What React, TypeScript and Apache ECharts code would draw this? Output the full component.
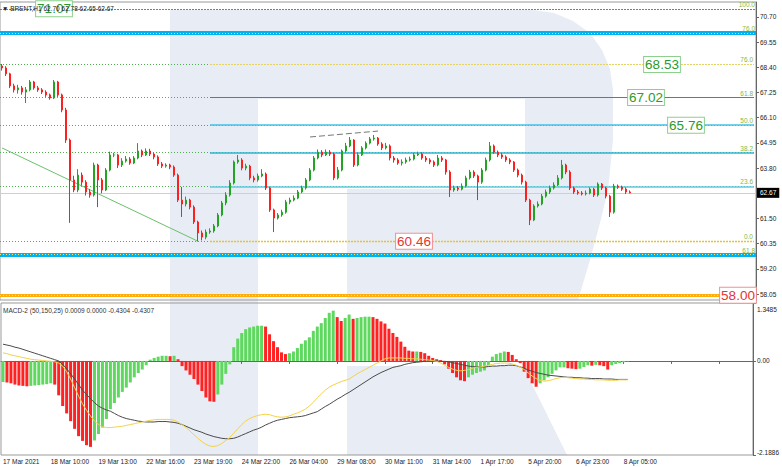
import React, { useEffect, useRef } from 'react';
import * as echarts from 'echarts';

// ---------- data ----------
const TIME_LABELS = ['17 Mar 2021', '18 Mar 10:00', '19 Mar 13:00', '22 Mar 16:00', '23 Mar 19:00', '24 Mar 22:00', '26 Mar 04:00', '29 Mar 08:00', '30 Mar 11:00', '31 Mar 14:00', '1 Apr 17:00', '5 Apr 20:00', '6 Apr 23:00', '8 Apr 05:00'];
const SLOTS = 189;
const LABEL_STEP = 12;

const FIRST_OPEN = 68.46;
const CLOSE = [
  68.37, 68.10, 67.55, 67.37, 67.46, 67.27, 67.37, 67.73, 67.46, 67.37,
  67.27, 67.14, 67.00, 67.73, 67.14, 66.45, 65.08, 63.26, 62.80, 63.48,
  63.16, 62.71, 62.57, 63.94, 63.26, 62.80, 63.71, 64.40, 64.40, 63.94,
  64.12, 64.21, 64.03, 64.26, 64.58, 64.40, 64.58, 64.44, 64.31, 63.99,
  63.89, 63.94, 63.85, 63.48, 62.34, 62.16, 62.34, 62.02, 61.34, 60.84,
  60.65, 60.88, 60.93, 61.16, 61.66, 62.21, 62.57, 63.12, 64.08, 64.17,
  63.80, 63.89, 63.35, 63.26, 63.44, 63.53, 62.89, 61.89, 61.52, 61.66,
  61.79, 62.25, 62.34, 62.43, 62.71, 62.89, 63.26, 63.71, 64.26, 64.53,
  64.40, 64.53, 64.44, 63.35, 63.71, 64.58, 64.81, 65.08, 63.94, 64.40,
  64.72, 64.94, 65.13, 65.17, 64.90, 64.72, 64.81, 64.26, 64.17, 64.03,
  64.08, 64.17, 64.21, 64.40, 64.44, 64.26, 64.17, 64.08, 63.94, 64.26,
  64.17, 63.62, 62.80, 62.89, 62.84, 62.98, 63.35, 63.62, 63.44, 63.16,
  63.71, 64.17, 64.81, 64.53, 64.40, 64.31, 64.17, 64.08, 63.71, 63.48,
  63.16, 62.34, 61.43, 62.07, 62.16, 62.52, 62.71, 62.89, 63.03, 63.35,
  63.94, 63.62, 62.89, 62.71, 62.66, 62.62, 62.66, 62.84, 62.57, 63.07,
  62.89, 62.52, 61.79, 62.98, 62.93, 62.84, 62.71, 62.67,
];
const HIGH = [
  68.55, 68.45, 68.15, 67.65, 67.60, 67.55, 67.50, 67.82, 67.78, 67.55,
  67.45, 67.35, 67.20, 67.82, 67.78, 67.20, 66.55, 65.15, 63.45, 63.75,
  63.60, 63.25, 62.85, 64.05, 64.00, 63.35, 63.80, 64.55, 64.50, 64.45,
  64.25, 64.35, 64.30, 64.35, 64.94, 64.65, 64.70, 64.68, 64.50, 64.38,
  64.08, 64.02, 64.00, 63.92, 63.55, 62.94, 62.50, 62.40, 62.10, 61.40,
  60.95, 61.00, 61.05, 61.25, 61.75, 62.30, 62.70, 63.25, 64.15, 64.40,
  64.25, 64.00, 63.95, 63.45, 63.55, 63.75, 63.60, 62.95, 61.95, 61.75,
  61.90, 62.35, 62.45, 62.55, 62.80, 63.00, 63.35, 63.80, 64.35, 64.65,
  64.62, 64.65, 64.62, 64.50, 63.85, 64.65, 64.95, 65.22, 65.12, 64.50,
  64.80, 65.02, 65.22, 65.31, 65.22, 64.98, 64.95, 64.88, 64.35, 64.25,
  64.20, 64.28, 64.32, 64.50, 64.55, 64.52, 64.35, 64.25, 64.15, 64.40,
  64.35, 64.22, 63.70, 63.00, 62.98, 63.10, 63.45, 63.72, 63.70, 63.50,
  63.80, 64.28, 64.99, 64.88, 64.60, 64.48, 64.38, 64.25, 64.12, 63.78,
  63.55, 63.22, 62.40, 62.15, 62.28, 62.62, 62.82, 63.00, 63.15, 63.48,
  64.17, 64.00, 63.70, 62.95, 62.80, 62.75, 62.78, 62.92, 62.90, 63.15,
  63.12, 62.95, 62.58, 63.08, 63.05, 63.00, 62.92, 62.78,
];
const LOW = [
  68.25, 68.00, 67.45, 67.25, 67.20, 67.15, 66.77, 67.30, 67.38, 67.28,
  67.18, 67.05, 66.92, 66.95, 67.05, 66.35, 64.95, 61.30, 62.70, 62.70,
  63.00, 62.55, 62.45, 62.50, 62.02, 62.65, 62.75, 63.65, 64.30, 63.80,
  63.85, 64.05, 63.95, 63.98, 64.20, 64.30, 64.35, 64.35, 64.20, 63.90,
  63.80, 63.82, 63.75, 63.40, 62.25, 61.57, 62.05, 61.92, 61.25, 60.46,
  60.50, 60.55, 60.80, 60.85, 61.10, 61.60, 62.10, 62.50, 63.05, 64.00,
  63.70, 63.70, 63.25, 63.15, 63.18, 63.38, 62.80, 61.80, 60.88, 61.45,
  61.58, 61.72, 62.15, 62.28, 62.38, 62.65, 62.82, 63.20, 63.65, 64.20,
  64.30, 64.35, 64.35, 63.25, 63.28, 63.65, 64.50, 64.75, 63.85, 63.88,
  64.35, 64.65, 64.88, 65.05, 64.82, 64.62, 64.65, 64.15, 64.05, 63.95,
  63.92, 64.00, 64.10, 64.15, 64.35, 64.18, 64.08, 63.98, 63.85, 63.88,
  64.08, 63.50, 62.48, 62.72, 62.75, 62.78, 62.92, 63.28, 63.35, 62.34,
  63.08, 63.65, 64.10, 64.45, 64.30, 64.22, 64.08, 63.98, 63.62, 63.38,
  63.05, 62.25, 61.20, 61.38, 62.00, 62.10, 62.45, 62.62, 62.82, 62.98,
  63.28, 63.52, 62.80, 62.62, 62.58, 62.55, 62.55, 62.60, 62.48, 62.50,
  62.80, 62.42, 61.57, 61.72, 62.85, 62.76, 62.62, 62.65,
];

const MACD_HIST = [
  -0.49, -0.50, -0.52, -0.55, -0.57, -0.58, -0.59, -0.58, -0.57, -0.56,
  -0.55, -0.54, -0.52, -0.55, -0.80, -1.05, -1.22, -1.40, -1.58, -1.75,
  -1.86, -1.96, -2.00, -1.85, -1.70, -1.55, -1.35, -1.12, -0.98, -0.85,
  -0.72, -0.62, -0.50, -0.38, -0.28, -0.20, -0.10, 0.03, 0.07, 0.10,
  0.12, 0.12, 0.11, 0.12, 0.04, -0.12, -0.22, -0.32, -0.42, -0.55,
  -0.70, -0.85, -0.94, -0.95, -0.78, -0.55, -0.30, -0.08, 0.32, 0.52,
  0.65, 0.74, 0.78, 0.80, 0.82, 0.82, 0.80, 0.62, 0.46, 0.32,
  0.20, 0.16, 0.18, 0.22, 0.30, 0.40, 0.48, 0.55, 0.70, 0.80,
  0.88, 1.00, 1.12, 1.17, 1.02, 0.93, 1.00, 1.08, 0.98, 1.00,
  1.02, 1.03, 1.03, 1.02, 0.98, 0.92, 0.87, 0.75, 0.65, 0.56,
  0.45, 0.33, 0.24, 0.22, 0.22, 0.21, 0.18, 0.12, 0.07, 0.04,
  0.02, -0.08, -0.18, -0.28, -0.38, -0.45, -0.47, -0.38, -0.32, -0.28,
  -0.25, -0.22, -0.10, 0.10, 0.16, 0.19, 0.22, 0.21, 0.14, 0.04,
  -0.05, -0.25, -0.40, -0.52, -0.60, -0.52, -0.45, -0.38, -0.30, -0.22,
  -0.15, -0.15, -0.17, -0.18, -0.19, -0.18, -0.14, -0.10, -0.11, -0.09,
  -0.10, -0.12, -0.20, -0.10, -0.07, -0.05, -0.03, -0.01,
];
const MACD_DARK = [
  0.39, 0.37, 0.35, 0.32, 0.30, 0.27, 0.24, 0.21, 0.18, 0.15,
  0.12, 0.09, 0.06, 0.03, 0.00, -0.08, -0.18, -0.30, -0.42, -0.55,
  -0.68, -0.78, -0.88, -0.97, -1.05, -1.10, -1.14, -1.17, -1.22, -1.27,
  -1.31, -1.34, -1.36, -1.38, -1.40, -1.41, -1.42, -1.42, -1.42, -1.41,
  -1.41, -1.41, -1.42, -1.43, -1.45, -1.48, -1.52, -1.56, -1.60, -1.63,
  -1.66, -1.70, -1.73, -1.76, -1.78, -1.80, -1.81, -1.81, -1.80, -1.77,
  -1.73, -1.69, -1.65, -1.61, -1.58, -1.54, -1.49, -1.45, -1.41, -1.38,
  -1.36, -1.34, -1.32, -1.31, -1.30, -1.29, -1.27, -1.24, -1.21, -1.18,
  -1.12, -1.06, -1.01, -0.95, -0.89, -0.84, -0.78, -0.73, -0.67, -0.61,
  -0.55, -0.49, -0.43, -0.37, -0.32, -0.27, -0.23, -0.19, -0.15, -0.13,
  -0.11, -0.08, -0.06, -0.04, -0.03, -0.02, -0.01, 0.00, 0.00, 0.00,
  -0.01, -0.01, -0.02, -0.04, -0.06, -0.08, -0.10, -0.12, -0.13, -0.14,
  -0.14, -0.14, -0.13, -0.12, -0.12, -0.11, -0.11, -0.10, -0.10, -0.11,
  -0.14, -0.17, -0.21, -0.24, -0.27, -0.29, -0.31, -0.33, -0.34, -0.35,
  -0.36, -0.37, -0.38, -0.38, -0.39, -0.39, -0.40, -0.40, -0.41, -0.41,
  -0.41, -0.42, -0.42, -0.42, -0.43, -0.43, -0.43, -0.43,
];
const MACD_YELLOW = [
  0.19, 0.17, 0.14, 0.12, 0.10, 0.08, 0.06, 0.04, 0.03, 0.02,
  0.01, 0.00, -0.01, -0.02, -0.05, -0.12, -0.25, -0.42, -0.62, -0.82,
  -1.00, -1.15, -1.28, -1.40, -1.48, -1.53, -1.55, -1.55, -1.54, -1.53,
  -1.52, -1.50, -1.48, -1.46, -1.44, -1.42, -1.40, -1.38, -1.37, -1.36,
  -1.36, -1.36, -1.36, -1.38, -1.42, -1.48, -1.55, -1.63, -1.72, -1.80,
  -1.88, -1.94, -1.98, -1.99, -1.97, -1.92, -1.85, -1.78, -1.68, -1.58,
  -1.48, -1.40, -1.34, -1.30, -1.27, -1.25, -1.24, -1.25, -1.28, -1.30,
  -1.31, -1.30, -1.28, -1.24, -1.21, -1.17, -1.12, -1.05, -0.96, -0.86,
  -0.77, -0.68, -0.61, -0.56, -0.52, -0.48, -0.45, -0.42, -0.36, -0.30,
  -0.25, -0.20, -0.15, -0.10, -0.05, 0.00, 0.05, 0.07, 0.07, 0.07,
  0.07, 0.06, 0.06, 0.05, 0.05, 0.04, 0.03, 0.02, 0.01, -0.01,
  -0.05, -0.10, -0.15, -0.19, -0.22, -0.23, -0.22, -0.20, -0.17, -0.15,
  -0.14, -0.12, -0.10, -0.08, -0.06, -0.05, -0.05, -0.05, -0.07, -0.10,
  -0.14, -0.20, -0.28, -0.35, -0.41, -0.45, -0.47, -0.46, -0.44, -0.41,
  -0.39, -0.38, -0.39, -0.40, -0.41, -0.42, -0.42, -0.43, -0.43, -0.44,
  -0.44, -0.44, -0.45, -0.45, -0.45, -0.44, -0.44, -0.44,
];

const PRICE_MIN = 57.78;
const PRICE_MAX = 71.38;
const PRICE_TICKS = [70.70, 69.55, 68.40, 67.25, 66.10, 64.95, 63.80, 61.50, 60.35, 59.20, 58.05];
const MACD_MIN = -2.1886;
const MACD_MAX = 1.3485;
const MACD_TICKS = [1.3485, 0, -2.1886];

const FIB_LEVELS = ['100.0', '76.0', '61.8', '50.0', '38.2', '23.6', '0.0'];
const FIB_VALUES = [71.07, 68.53, 67.02, 65.76, 64.51, 62.96, 60.46];
const FIB_ANCHOR = 52;
const EXT_LEVELS = ['76.0', '61.8'];
const EXT_VALUES = [69.97, 59.85];
const TARGET_VALUE = 58.0;
const LAST_PRICE = 62.67;
const TREND_LINE = [[0, 64.72], [49, 60.46]];
const PEAK_LINE = [[77, 65.22], [94, 65.49]];

const BOX_TEXTS = ['71.07', '68.53', '67.02', '65.76', '60.46', '58.00'];
const BOX_INDEX = [13, 165, 160.5, 170.5, 102.7, 183.5];
const BOX_VALUES = [71.07, 68.53, 67.02, 65.76, 60.46, 58.0];
const BOX_TONE = ['up', 'up', 'up', 'up', 'down', 'down'];

const HEADER = '\u25BC BRENT,H1 62.70 62.78 62.65 62.67';
const MACD_TITLE = 'MACD-2 (50,150,25) 0.0009 0.0000 -0.4304 -0.4307';

// ---------- styles ----------
const FONT = 'Liberation Sans';
const UP = '#23a523';
const DOWN = '#ff1f1f';
const H_UP = '#5fd85f';
const H_DOWN = '#ff2222';
const WM = '#e8ecf4';
const FIB_STYLE = [
  { color: '#25a0b3', width: 1, type: [2, 1], full: true },
  { color: '#e2d364', width: 1.2, type: [2, 1] },
  { color: '#2f8ea4', width: 1.2, type: 'solid' },
  { color: '#44c2ea', width: 1.6, type: 'solid' },
  { color: '#2bb6d6', width: 1.6, type: 'solid' },
  { color: '#5ccbe6', width: 1.6, type: 'solid' },
  { color: '#e6c23a', width: 1.4, type: [2, 1] },
];

export default function App() {
  const ref = useRef<HTMLDivElement>(null);
  useEffect(() => {
    if (!ref.current) return;
    const chart = echarts.init(ref.current, null, { renderer: 'svg' });

    const cats = Array.from({ length: SLOTS }, (_, i) =>
      i % LABEL_STEP === 0 && i / LABEL_STEP < TIME_LABELS.length ? TIME_LABELS[i / LABEL_STEP] : ''
    );
    const ohlc = CLOSE.map((c, i) => [i === 0 ? FIRST_OPEN : CLOSE[i - 1], c, LOW[i], HIGH[i]]);
    const hist = MACD_HIST.map((v, i) => ({
      value: v,
      itemStyle: { color: i === 0 || v >= MACD_HIST[i - 1] ? H_UP : H_DOWN },
    }));

    const smallLabel = (text: string) => ({
      show: true,
      position: 'insideEndTop',
      formatter: text,
      color: '#86b83e',
      fontSize: 6.5,
      fontFamily: FONT,
      distance: [1, 1],
    });

    const levelLines: any[] = [];
    FIB_VALUES.forEach((v, i) => {
      if (FIB_STYLE[i].full) return;
      levelLines.push({ yAxis: v, lineStyle: { color: '#4fae4f', width: 1, type: [1, 2] }, label: { show: false } });
    });
    FIB_VALUES.forEach((v, i) => {
      const st = FIB_STYLE[i];
      const ls = { color: st.color, width: st.width, type: st.type };
      if (st.full) {
        levelLines.push({ yAxis: v, lineStyle: ls, label: smallLabel(FIB_LEVELS[i]) });
      } else {
        levelLines.push([
          { coord: [FIB_ANCHOR, v], lineStyle: ls, label: smallLabel(FIB_LEVELS[i]) },
          { coord: [SLOTS - 1, v], lineStyle: ls, label: smallLabel(FIB_LEVELS[i]) },
        ]);
      }
    });
    EXT_VALUES.forEach((v, i) => {
      levelLines.push({ yAxis: v, lineStyle: { color: '#00b3ef', width: 4, type: 'solid' }, label: { show: false } });
      levelLines.push({ yAxis: v, lineStyle: { color: '#f3e46a', width: 1, type: [1, 2] }, label: smallLabel(EXT_LEVELS[i]) });
    });
    levelLines.push({ yAxis: TARGET_VALUE, lineStyle: { color: '#ffad0a', width: 3, type: 'solid' }, label: { show: false } });
    levelLines.push({ yAxis: TARGET_VALUE, lineStyle: { color: '#ffe07a', width: 1, type: [1, 2] }, label: { show: false } });
    levelLines.push([
      { coord: TREND_LINE[0], lineStyle: { color: '#6cc06c', width: 1, type: 'solid' }, label: { show: false } },
      { coord: TREND_LINE[1], lineStyle: { color: '#6cc06c', width: 1, type: 'solid' }, label: { show: false } },
    ]);
    levelLines.push([
      { coord: PEAK_LINE[0], lineStyle: { color: '#777', width: 1, type: [6, 3] }, label: { show: false } },
      { coord: PEAK_LINE[1], lineStyle: { color: '#777', width: 1, type: [6, 3] }, label: { show: false } },
    ]);
    levelLines.push({
      yAxis: LAST_PRICE,
      lineStyle: { color: '#cfcfcf', width: 1.2, type: 'solid' },
      label: {
        show: true, position: 'end', formatter: LAST_PRICE.toFixed(2), distance: 1,
        backgroundColor: '#000', color: '#fff', fontSize: 6.5, fontFamily: FONT, padding: [2, 3, 1, 3],
      },
    });

    const boxes = BOX_TEXTS.map((t, i) => {
      const up = BOX_TONE[i] === 'up';
      return {
        coord: [BOX_INDEX[i], BOX_VALUES[i]],
        symbol: 'rect',
        symbolSize: 1,
        itemStyle: { color: 'rgba(0,0,0,0)' },
        label: {
          show: true, position: 'inside', formatter: t,
          fontSize: 13.5, fontFamily: FONT,
          color: up ? '#2b9a2b' : '#e8332f',
          backgroundColor: '#fff',
          borderColor: up ? '#8dd08d' : '#f29090',
          borderWidth: 1,
          padding: [1, 1, 0, 1],
        },
      };
    });

    const tickText = { fontSize: 6.5, fontFamily: FONT, color: '#222' };

    const option: any = {
      animation: false,
      backgroundColor: '#fff',
      grid: [
        { left: 0, right: 26, top: 2, height: 298, show: true, borderColor: '#999', borderWidth: 1, backgroundColor: 'transparent' },
        { left: 0, right: 26, top: 303, height: 152, show: true, borderColor: '#999', borderWidth: 1, backgroundColor: 'transparent' },
      ],
      xAxis: [
        {
          type: 'category', gridIndex: 0, data: cats, boundaryGap: true,
          axisLine: { show: false }, axisTick: { show: false }, axisLabel: { show: false }, splitLine: { show: false },
        },
        {
          type: 'category', gridIndex: 1, data: cats, boundaryGap: true,
          axisLine: { show: true, lineStyle: { color: '#666' } },
          axisTick: { show: true, alignWithLabel: true, interval: LABEL_STEP - 1, length: 3, lineStyle: { color: '#666' } },
          axisLabel: { interval: LABEL_STEP - 1, align: 'left', ...tickText, margin: 3 },
          splitLine: { show: false },
        },
      ],
      yAxis: [
        {
          type: 'value', gridIndex: 0, position: 'right', min: PRICE_MIN, max: PRICE_MAX, scale: true,
          axisLine: { show: true, lineStyle: { color: '#666' } },
          axisTick: { show: true, length: 3, customValues: PRICE_TICKS, lineStyle: { color: '#666' } },
          axisLabel: { customValues: PRICE_TICKS, formatter: (v: number) => v.toFixed(2), ...tickText, margin: 4 },
          splitLine: { show: false },
        },
        {
          type: 'value', gridIndex: 1, position: 'right', min: MACD_MIN, max: MACD_MAX,
          axisLine: { show: true, lineStyle: { color: '#666' } },
          axisTick: { show: true, length: 3, customValues: MACD_TICKS, lineStyle: { color: '#666' } },
          axisLabel: {
            customValues: MACD_TICKS,
            formatter: (v: number) => {
              if (Math.abs(v) < 1e-9) return '0.00';
              if (v > 0) return '{hi|' + v.toFixed(4) + '}';
              return '{lo|' + v.toFixed(4) + '}';
            },
            ...tickText, margin: 4,
            rich: {
              hi: { ...tickText, padding: [13, 0, 0, 0] },
              lo: { ...tickText, padding: [0, 0, 6, 0] },
            },
          },
          splitLine: { show: false },
        },
      ],
      graphic: [
        { type: 'rect', z: -10, silent: true, shape: { x: 170, y: 10, width: 88, height: 445 }, style: { fill: WM } },
        {
          type: 'polygon', z: -10, silent: true,
          shape: {
            points: [[258, 10], [533, 10], [554, 13], [573, 21], [590, 33], [602, 50], [610, 69], [613, 90], [613, 140],
              [608, 190], [600, 223], [590, 260], [578, 300], [347, 300], [347, 189], [525, 189], [525, 99], [258, 99]],
          },
          style: { fill: WM },
        },
        { type: 'polygon', z: -10, silent: true, shape: { points: [[347, 366], [523, 366], [567, 455], [347, 455]] }, style: { fill: WM } },
        { type: 'text', z: 20, left: 2, top: 5, style: { text: HEADER, fill: '#222', font: `6.5px "${FONT}"` } },
        { type: 'text', z: 20, left: 3, top: 307, style: { text: MACD_TITLE, fill: '#333', font: `6.5px "${FONT}"` } },
      ],
      series: [
        {
          type: 'line', name: 'levels', xAxisIndex: 0, yAxisIndex: 0, data: [], z: 1,
          markLine: { z: 1, silent: true, symbol: ['none', 'none'], label: { show: false }, data: levelLines },
        },
        {
          type: 'candlestick', name: 'BRENT', xAxisIndex: 0, yAxisIndex: 0, data: ohlc, z: 3, barWidth: 2,
          itemStyle: { color: UP, color0: DOWN, borderColor: UP, borderColor0: DOWN, borderWidth: 1 },
        },
        {
          type: 'line', name: 'boxes', xAxisIndex: 0, yAxisIndex: 0, data: [], z: 10,
          markPoint: { z: 10, silent: true, data: boxes },
        },
        {
          type: 'bar', name: 'MACD', xAxisIndex: 1, yAxisIndex: 1, data: hist, barWidth: 3, z: 2,
        },
        {
          type: 'line', name: 'Main', xAxisIndex: 1, yAxisIndex: 1, data: MACD_DARK, symbol: 'none', z: 4,
          lineStyle: { color: '#4a4a4a', width: 1 },
        },
        {
          type: 'line', name: 'Signal', xAxisIndex: 1, yAxisIndex: 1, data: MACD_YELLOW, symbol: 'none', z: 4,
          lineStyle: { color: '#f2d24a', width: 1 },
        },
      ],
    };
    chart.setOption(option);
    return () => chart.dispose();
  }, []);

  return (
    <div style={{ position: 'fixed', left: 0, top: 0, width: 782, height: 467, background: '#fff' }}>
      <div ref={ref} style={{ width: 782, height: 467 }} />
    </div>
  );
}
